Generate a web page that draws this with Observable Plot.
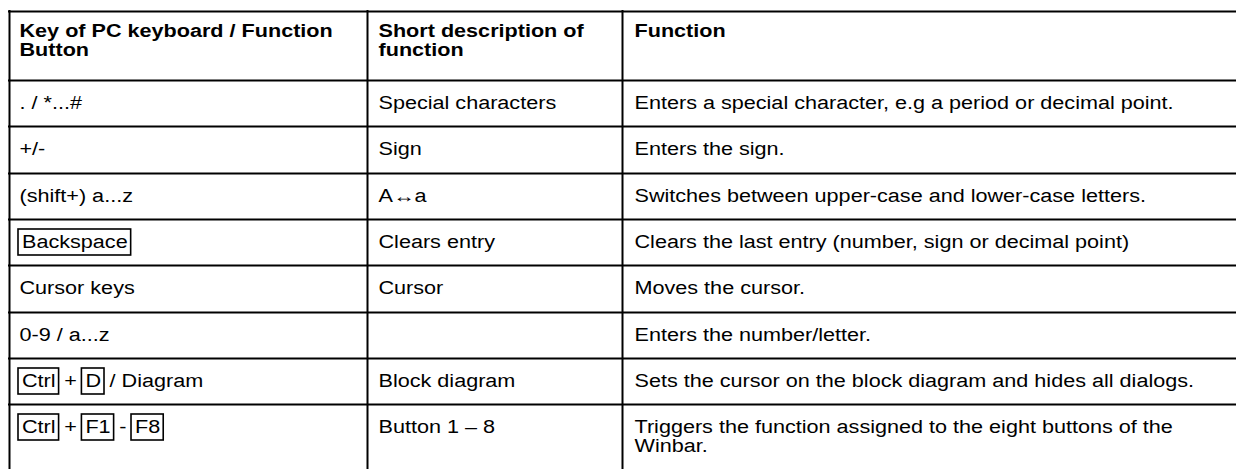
<!DOCTYPE html>
<html><head><meta charset="utf-8">
<script src="https://cdn.jsdelivr.net/npm/d3@7"></script>
<script src="https://cdn.jsdelivr.net/npm/@observablehq/plot@0.6"></script>
<style>html,body{margin:0;padding:0;background:#fff}</style>
</head><body><div id="chart"></div>
<script>
// ---- data ----
const headers = ["Key of PC keyboard / Function\nButton", "Short description of\nfunction", "Function"];
const keyColumn = [". / *...#", "+/-", "(shift+) a...z", "[Backspace]", "Cursor keys", "0-9 / a...z", "[Ctrl] + [D] / Diagram", "[Ctrl] + [F1] - [F8]"];
const shortDescriptions = ["Special characters", "Sign", "A\u2194a", "Clears entry", "Cursor", "", "Block diagram", "Button 1 \u2013 8"];
const functions = [
  "Enters a special character, e.g a period or decimal point.",
  "Enters the sign.",
  "Switches between upper-case and lower-case letters.",
  "Clears the last entry (number, sign or decimal point)",
  "Moves the cursor.",
  "Enters the number/letter.",
  "Sets the cursor on the block diagram and hides all dialogs.",
  "Triggers the function assigned to the eight buttons of the\nWinbar."
];

// ---- layout ----
const W = 1236, H = 469;
const FONT = "Liberation Sans, Arial, Helvetica, sans-serif";
const FS = 18, SX = 1.2, LH = 19.5;
const colLines = [9, 367, 622];
const textX = [19, 378, 634];
const tableTop = 11, headerBottom = 80, rowH = 46.3;
const rowTops = keyColumn.map((_, i) => Math.round(headerBottom + i * rowH));
const hLines = [tableTop, ...rowTops];
const headerCapTop = tableTop + 12.5;
const rowCapOffset = 15.5;
const keyPad = 3.5;

const ctx = document.createElement("canvas").getContext("2d");
function measure(s, weight) {
  ctx.font = `${weight || "normal"} ${FS}px "Liberation Sans"`;
  return ctx.measureText(s).width * SX;
}
function pushLines(arr, x, y, text) {
  text.split("\n").forEach((line, k) => arr.push({x, y: y + k * LH, text: line}));
}

// header texts
const headerTexts = [];
headers.forEach((t, j) => pushLines(headerTexts, textX[j], headerCapTop, t));
// body texts (col 2 and 3)
const bodyTexts = [];
shortDescriptions.forEach((t, i) => { if (t) pushLines(bodyTexts, textX[1], rowTops[i] + rowCapOffset, t); });
functions.forEach((t, i) => pushLines(bodyTexts, textX[2], rowTops[i] + rowCapOffset, t));
// col 1 with key boxes
const keyBoxes = [];
keyColumn.forEach((s, i) => {
  const y = rowTops[i] + rowCapOffset;
  if (!s.includes("[")) { pushLines(bodyTexts, textX[0], y, s); return; }
  const tokens = s.split(/(\[[^\]]+\])/).filter(d => d !== "");
  const sp = measure(" ") * 0.85;
  let cx = textX[0] - 1;
  tokens.forEach(tok => {
    if (tok.startsWith("[")) {
      const k = tok.slice(1, -1);
      const w = measure(k);
      keyBoxes.push({x1: cx, x2: cx + w + 2 * keyPad, y1: rowTops[i] + 10, y2: rowTops[i] + 36});
      bodyTexts.push({x: cx + keyPad, y, text: k});
      cx += w + 2 * keyPad;
    } else {
      const lead = tok.length - tok.trimStart().length;
      const trail = tok.length - tok.trimEnd().length;
      const trimmed = tok.trim();
      cx += lead * sp;
      bodyTexts.push({x: cx, y, text: trimmed});
      cx += measure(trimmed) + trail * sp;
    }
  });
});

const chart = Plot.plot({
  width: W, height: H, margin: 0,
  x: {type: "identity", axis: null}, y: {type: "identity", axis: null},
  style: {fontFamily: FONT, fontSize: FS + "px", background: "#fff", color: "#000"},
  marks: [
    Plot.ruleY(hLines, {y: d => d, x1: colLines[0] - 1, x2: W, stroke: "#000", strokeWidth: 2}),
    Plot.ruleX(colLines, {x: d => d, y1: tableTop - 1, y2: H, stroke: "#000", strokeWidth: 2}),
    Plot.rect(keyBoxes, {x1: "x1", x2: "x2", y1: "y1", y2: "y2", fill: "none", stroke: "#000", strokeWidth: 1.6}),
    Plot.text(headerTexts, {x: "x", y: "y", text: "text", textAnchor: "start", lineAnchor: "top", fontWeight: "bold", fill: "#000", fontSize: FS}),
    Plot.text(bodyTexts, {x: "x", y: "y", text: "text", textAnchor: "start", lineAnchor: "top", fill: "#000", fontSize: FS})
  ]
});
document.getElementById("chart").appendChild(chart);
// widen glyphs horizontally to match the reference's proportions
chart.querySelectorAll("text").forEach(t => {
  const len = t.getComputedTextLength();
  if (len > 0) {
    t.setAttribute("textLength", (len * SX).toFixed(2));
    t.setAttribute("lengthAdjust", "spacingAndGlyphs");
  }
});
</script>
</body></html>
